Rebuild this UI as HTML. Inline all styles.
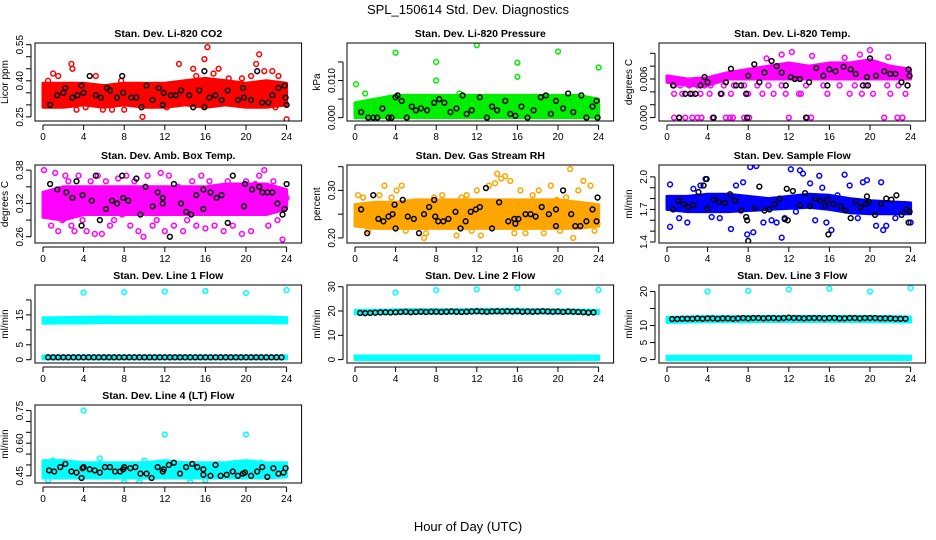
<!DOCTYPE html>
<html><head><meta charset="utf-8"><style>
html,body{margin:0;padding:0;background:#fff;}
svg{display:block;font-family:"Liberation Sans",Arial,sans-serif;}
</style></head><body>
<svg id="chart" width="936" height="540" viewBox="0 0 936 540" xmlns="http://www.w3.org/2000/svg">
<text x="468" y="14" text-anchor="middle" font-size="13">SPL_150614  Std. Dev. Diagnostics</text>
<text x="468" y="531" text-anchor="middle" font-size="13">Hour of Day (UTC)</text>
</svg>
<script>
// ---- shared ----
const bandHours = [0,2,4,6,8,10,12,14,16,18,20,22,24];
const xTicks = [0,4,8,12,16,20,24];
const halfHours = [0.5,1,1.5,2,2.5,3,3.5,4,4.5,5,5.5,6,6.5,7,7.5,8,8.5,9,9.5,10,10.5,11,11.5,12,12.5,13,13.5,14,14.5,15,15.5,16,16.5,17,17.5,18,18.5,19,19.5,20,20.5,21,21.5,22,22.5,23,23.5];

// ---- CO2 ----
const co2Lo = [0.29,0.29,0.30,0.29,0.30,0.29,0.29,0.30,0.29,0.30,0.29,0.29,0.30];
const co2Hi = [0.39,0.39,0.39,0.38,0.39,0.39,0.39,0.40,0.41,0.40,0.39,0.40,0.39];
const co2X = [0.5,1,1.5,2.8,2.9,3.3,4.2,5.2,5.9,6.8,7.7,8,9.8,12.2,13.4,14.8,15.1,15.9,16.2,16.8,17.3,18.3,19.6,20.5,21,21.3,21.8,22.6,22.9,23.2,24];
const co2Y = [0.40,0.43,0.42,0.47,0.45,0.28,0.29,0.42,0.28,0.28,0.40,0.28,0.25,0.29,0.47,0.45,0.42,0.49,0.54,0.43,0.45,0.41,0.41,0.42,0.47,0.51,0.44,0.44,0.29,0.42,0.24];
const co2BX = [0.7,1.4,2,2.2,2.9,3.4,3.8,4,4.6,5.2,5.7,6.3,6.6,7.3,7.8,7.9,8.7,9.2,9.7,10.2,10.8,11.4,11.8,11.9,12.6,13.1,13.6,14.4,14.8,15.4,15.9,15.9,16.4,17,17.6,18.2,19.2,19.7,19.8,20.5,21.1,21.6,22.2,22.6,23.2,23.8,23.9,24];
const co2BY = [0.30,0.34,0.35,0.37,0.33,0.34,0.38,0.35,0.42,0.34,0.33,0.37,0.36,0.33,0.42,0.35,0.33,0.33,0.29,0.38,0.32,0.37,0.30,0.35,0.34,0.34,0.36,0.34,0.29,0.36,0.44,0.29,0.33,0.34,0.32,0.36,0.32,0.37,0.33,0.32,0.44,0.31,0.31,0.34,0.37,0.38,0.33,0.30];

// ---- Pressure ----
const presLo = [0,0,0,0,0,0,0,0,0,0,0,0,0];
const presHi = [0.004,0.005,0.006,0.006,0.006,0.006,0.006,0.006,0.006,0.006,0.006,0.006,0.005];
const presX = [0.1,4,8,8,12,16,16,20,24,1,10.3,2.5];
const presY = [0.009,0.0175,0.015,0.010,0.0195,0.0148,0.011,0.0178,0.0135,0.0065,0.0065,0.004];
const presBX = [0.6,1.3,1.8,2.2,2.7,3.3,3.6,4,4.2,4.6,5.1,5.6,6,6.5,7.1,7.8,8.3,8.8,9.4,10,10.6,11,11.5,12.3,13,13.5,14,14.8,15.3,15.8,16.4,17,17.6,18.3,18.8,19.3,19.8,20.5,21,21.5,22.3,22.8,23.4,23.8,23.9];
const presBY = [0.0015,0,0,0,0.0025,0,0,0.0055,0.006,0.0045,0,0.003,0.002,0.0025,0.002,0.004,0.005,0.004,0.0015,0.0025,0.006,0.001,0.002,0.0055,0,0.003,0.002,0.0045,0.001,0.0005,0.003,0,0.002,0.0055,0.006,0.001,0.0045,0.0025,0.0065,0.0015,0.006,0,0.003,0.0045,0];

// ---- Li-820 Temp ----
const ltLo = [0.0055,0.005,0.005,0.006,0.006,0.006,0.006,0.006,0.006,0.006,0.006,0.006,0.006];
const ltHi = [0.0065,0.006,0.0062,0.007,0.0075,0.008,0.0085,0.008,0.0085,0.0085,0.009,0.008,0.0075];
const ltX = [0.7,1.2,1.8,2.5,3,3.4,4.5,5.8,6.2,6.5,7.6,8.1,12,13.8,14.2,21.4,22.7,23.2,
  0.7,1.5,2.5,3.3,4.2,5.4,6.3,7.8,8,9.4,10.5,11.7,13,13.2,15.8,18,19.2,20.3,22,23.5,
  0.7,1.3,2.2,3,3.7,4.3,5.6,6.6,7.6,8.9,10,11.3,13.7,15.4,17,18.5,19.6,21.7,22.8,23.7,
  9.8,11.3,12.3,14.3,17.5,19,20,21.8];
const ltY = [0,0,0,0,0,0,0,0,0,0,0,0,0,0,0,0,0,0,
  0.0037,0.0037,0.0037,0.0037,0.0037,0.0037,0.0037,0.0037,0.0037,0.0037,0.0037,0.0037,0.0037,0.0037,0.0037,0.0037,0.0037,0.0037,0.0037,0.0037,
  0.005,0.005,0.005,0.005,0.005,0.005,0.005,0.005,0.005,0.005,0.005,0.005,0.005,0.005,0.005,0.005,0.005,0.005,0.005,0.005,
  0.0092,0.0098,0.0102,0.0096,0.0093,0.0098,0.0105,0.0094];
const ltBX = [0.6,1.2,1.8,2.3,2.8,3.3,3.7,4,4.6,5.3,5.8,6.3,6.8,7.3,7.9,7.8,8,8.6,9.1,9.6,10.3,10.8,11.3,11.7,12.2,12.6,13.1,13.7,14,14.7,15.4,15.8,16,16.6,17.4,18.1,18.6,19.3,19.7,19.8,20,20.6,21.4,22,22.5,23.1,23.7,23.8,23.9];
const ltBY = [0.005,0,0.0037,0.0037,0.0037,0.005,0.0063,0.0055,0,0.0037,0.0055,0.0076,0.005,0.005,0,0.0037,0.0065,0.0083,0.0055,0.007,0.0088,0.008,0.007,0.005,0.0063,0.006,0.006,0,0.0055,0.0077,0.0065,0.005,0.0075,0.0072,0.0079,0.0075,0.0068,0.005,0.0063,0.005,0.0092,0.0065,0.0072,0.0068,0.0068,0.0055,0.005,0.0075,0.0065];

// ---- Amb Box Temp ----
const abLo = [0.295,0.29,0.30,0.30,0.30,0.30,0.30,0.30,0.30,0.30,0.30,0.30,0.31];
const abHi = [0.34,0.35,0.35,0.35,0.35,0.35,0.35,0.35,0.35,0.355,0.355,0.355,0.345];
const abX = [0.1,0.4,0.8,1.2,1.5,1.9,2.2,2.5,2.8,3.1,3.5,3.9,4.3,4.7,5.1,5.4,5.8,6.2,6.6,7,7.4,7.8,8.2,8.6,9,9.4,9.9,10.3,10.8,11.2,11.6,12,12.4,12.9,13.3,13.8,14.2,14.7,15.1,15.6,16,16.4,16.9,17.3,17.8,18.2,18.7,19.1,19.6,20,20.5,20.9,21.3,21.8,22.2,22.7,23.1,23.6,24];
const abY = [0.38,0.31,0.28,0.375,0.27,0.29,0.37,0.36,0.28,0.27,0.37,0.29,0.27,0.36,0.265,0.37,0.265,0.36,0.28,0.29,0.365,0.30,0.37,0.28,0.36,0.27,0.26,0.37,0.28,0.29,0.375,0.27,0.37,0.28,0.35,0.27,0.29,0.36,0.28,0.37,0.275,0.36,0.28,0.35,0.27,0.36,0.28,0.35,0.265,0.36,0.27,0.355,0.37,0.38,0.28,0.36,0.29,0.255,0.33];
const abBX = [0.7,1.4,2.3,2.9,3.3,3.8,3.9,4.8,5.2,5.6,6.2,6.8,7.3,7.8,7.9,8.4,9.2,9.6,10.1,10.8,11.3,11.8,11.8,12.5,12.9,13.6,14.1,14.6,15.1,15.8,15.8,16.5,17.1,17.6,18.2,18.7,19.8,19.9,20.6,21.3,21.6,22.1,22.6,23.1,23.6,23.8,24];
const abBY = [0.355,0.345,0.34,0.33,0.36,0.28,0.335,0.325,0.37,0.29,0.31,0.325,0.32,0.37,0.33,0.325,0.365,0.30,0.35,0.315,0.34,0.33,0.32,0.26,0.355,0.32,0.305,0.30,0.335,0.345,0.31,0.34,0.33,0.335,0.285,0.37,0.315,0.355,0.345,0.35,0.34,0.34,0.34,0.32,0.30,0.31,0.355];

// ---- Gas Stream RH ----
const rhLo = [0.225,0.22,0.22,0.22,0.22,0.22,0.22,0.22,0.22,0.22,0.22,0.22,0.225];
const rhHi = [0.27,0.275,0.275,0.28,0.28,0.28,0.28,0.28,0.28,0.28,0.28,0.275,0.27];
const rhX = [0.3,0.8,1.3,2.4,2.9,3.6,4.1,4.6,5,6.8,7,7.8,8.6,9.2,10,10.5,11,11.5,12,12.4,13.2,13.8,14,14.4,14.8,15.3,15.7,16.3,16.8,17.5,18.1,18.6,19.3,19.9,20.2,20.8,21.2,21.5,22,22.5,23.2,23.6,23.9];
const rhY = [0.29,0.285,0.215,0.29,0.31,0.285,0.30,0.31,0.215,0.20,0.21,0.285,0.29,0.275,0.205,0.285,0.29,0.215,0.30,0.205,0.31,0.315,0.335,0.325,0.33,0.32,0.21,0.30,0.21,0.29,0.30,0.21,0.31,0.28,0.215,0.285,0.345,0.20,0.30,0.32,0.31,0.215,0.23];
const rhBX = [0.6,1.2,1.8,2.3,2.8,3.3,3.7,3.9,4,4.7,5.2,5.8,6.3,6.8,7.3,7.8,7.9,8.2,8.7,9.2,9.9,10.4,10.9,11.4,11.9,12.3,12.9,13.5,14.2,15.1,15.7,15.8,16.1,16.8,17.3,17.8,18.4,19.1,19.8,19.8,20.5,21.3,21.7,22.2,22.8,23.4,23.8,23.9];
const rhBY = [0.26,0.21,0.29,0.24,0.235,0.245,0.25,0.27,0.22,0.28,0.245,0.24,0.21,0.25,0.265,0.28,0.245,0.235,0.235,0.24,0.255,0.22,0.235,0.255,0.26,0.265,0.305,0.22,0.275,0.235,0.24,0.23,0.24,0.25,0.25,0.245,0.265,0.25,0.26,0.225,0.30,0.25,0.225,0.225,0.235,0.26,0.235,0.285];

// ---- Sample Flow ----
const sfLo = [1.70,1.68,1.68,1.68,1.69,1.70,1.71,1.72,1.70,1.67,1.66,1.66,1.66];
const sfHi = [1.82,1.82,1.84,1.84,1.82,1.80,1.82,1.84,1.83,1.80,1.78,1.77,1.76];
const sfX = [0.3,0.3,1.2,2.0,2.6,3.3,3.8,4.4,5.2,6.3,6.8,7.5,7.9,8.2,8.5,8.8,9.5,10.3,10.8,11.3,11.6,12.2,12.7,13.1,13.4,14.1,14.6,15.0,15.3,15.7,16.2,16.8,17.5,18.0,18.8,19.3,19.7,20.6,21.1,21.3,21.6,22.5,23.4,24];
const sfY = [1.93,1.54,1.62,1.58,1.89,1.92,1.98,1.63,1.62,1.52,1.92,1.95,1.47,2.09,1.49,2.10,1.58,1.60,1.58,1.44,1.62,2.07,1.68,2.06,2.03,1.94,1.60,2.01,1.90,1.58,1.51,1.83,2.02,1.92,1.62,1.95,1.97,1.55,1.95,1.51,1.55,1.62,1.75,1.58];
const sfBX = [0.6,1.1,1.6,2.1,2.6,3.1,3.6,3.9,4.0,4.6,5.1,5.7,6.2,6.7,7.3,7.8,7.9,8.0,8.6,9.1,9.6,10.1,10.6,11.1,11.6,11.8,11.9,12.4,13.1,13.6,14.1,14.6,15.1,15.6,15.8,15.9,16.4,17.1,17.6,18.1,18.6,19.1,19.6,19.7,19.9,20.5,21.1,21.6,22.1,22.6,23.1,23.6,23.8,23.9];
const sfBY = [1.70,1.78,1.75,1.72,1.74,1.86,1.92,1.98,1.71,1.79,1.77,1.76,1.84,1.78,1.69,1.63,1.60,1.41,1.71,1.91,1.69,1.70,1.75,1.80,1.61,1.89,1.60,1.87,1.74,1.85,1.73,1.80,1.78,1.73,1.79,1.47,1.75,1.73,1.69,1.62,1.77,1.72,1.75,1.82,1.77,1.65,1.75,1.80,1.79,1.83,1.65,1.70,1.58,1.68];

// ---- Line 1 Flow ----
const l1Lo = [12.2,12.3,12.3,12.4,12.4,12.4,12.4,12.4,12.4,12.4,12.4,12.4,12.3];
const l1Hi = [14.0,14.1,14.2,14.3,14.2,14.3,14.3,14.3,14.3,14.3,14.3,14.3,14.1];
const l1Lo2 = [0.3,0.3,0.3,0.3,0.3,0.3,0.3,0.3,0.3,0.3,0.3,0.3,0.3];
const l1Hi2 = [1.3,1.3,1.3,1.3,1.3,1.3,1.3,1.3,1.3,1.3,1.3,1.3,1.3];
const l1X = [4,8,12,16,20,24];
const l1Y = [22.5,22.6,22.8,23.0,22.3,23.3];
const l1BY = [0.8,0.8,0.8,0.8,0.8,0.8,0.8,0.8,0.8,0.8,0.8,0.8,0.8,0.8,0.8,0.8,0.8,0.8,0.8,0.8,0.8,0.8,0.8,0.8,0.8,0.8,0.8,0.8,0.8,0.8,0.8,0.8,0.8,0.8,0.8,0.8,0.8,0.8,0.8,0.8,0.8,0.8,0.8,0.8,0.8,0.8,0.8];

// ---- Line 2 Flow ----
const l2Lo = [18.8,18.9,19.0,19.1,19.1,19.1,19.2,19.2,19.2,19.1,19.1,19.0,18.9];
const l2Hi = [20.2,20.3,20.5,20.6,20.6,20.6,20.7,20.7,20.7,20.6,20.5,20.4,20.2];
const l2Lo2 = [0,0,0,0,0,0,0,0,0,0,0,0,0];
const l2Hi2 = [1.5,1.5,1.5,1.5,1.5,1.5,1.5,1.5,1.5,1.5,1.5,1.5,1.5];
const l2X = [4,8,12,16,20,24];
const l2Y = [27.6,28.6,28.9,29.5,28.0,28.7];
const l2BY = [19.2,19.1,19.2,19.3,19.4,19.5,19.4,19.5,19.6,19.7,19.5,19.6,19.7,19.6,19.7,19.7,19.6,19.7,19.8,19.7,19.6,19.7,19.8,19.9,19.8,19.7,19.8,19.9,19.8,19.9,19.8,19.9,19.7,19.8,19.7,19.8,19.9,19.8,19.7,19.8,19.6,19.8,19.7,19.6,19.5,19.3,19.4];

// ---- Line 3 Flow ----
const l3Lo = [10.9,11.0,11.1,11.1,11.1,11.2,11.2,11.2,11.2,11.2,11.1,11.1,11.0];
const l3Hi = [12.4,12.5,12.6,12.6,12.6,12.7,12.7,12.7,12.7,12.7,12.6,12.6,12.5];
const l3Lo2 = [0,0,0,0,0,0,0,0,0,0,0,0,0];
const l3Hi2 = [1.0,1.0,1.0,1.0,1.0,1.0,1.0,1.0,1.0,1.0,1.0,1.0,1.0];
const l3X = [4,8,12,16,20,24];
const l3Y = [20.0,20.2,20.6,20.8,20.0,21.0];
const l3BY = [11.9,11.9,12.0,12.0,12.0,12.1,12.0,12.1,12.1,12.0,12.1,12.1,12.0,12.1,12.2,12.1,12.2,12.2,12.1,12.2,12.2,12.1,12.2,12.3,12.2,12.2,12.1,12.2,12.2,12.2,12.1,12.2,12.2,12.1,12.1,12.2,12.2,12.1,12.2,12.2,12.2,12.1,12.1,12.1,12.0,12.0,12.0];

// ---- Line 4 (LT) Flow ----
const l4Lo = [0.44,0.44,0.44,0.44,0.44,0.44,0.44,0.44,0.44,0.44,0.44,0.44,0.445];
const l4Hi = [0.52,0.52,0.51,0.51,0.51,0.51,0.52,0.51,0.51,0.51,0.52,0.51,0.51];
const l4X = [0.5,1,4,5.6,8,9.5,10,12,14.5,16,20,21.5,22.8,3.5,18.9];
const l4Y = [0.43,0.52,0.75,0.53,0.42,0.42,0.52,0.64,0.42,0.43,0.64,0.51,0.50,0.50,0.51];
const l4BX = [0.6,1.1,1.7,2.2,2.8,3.3,3.8,3.9,4.0,4.6,5.1,5.6,6.1,6.6,7.1,7.6,7.9,8.0,8.6,9.1,9.6,10.2,10.7,11.3,11.8,11.9,12.4,12.9,13.5,14.1,14.7,15.2,15.8,15.8,16.5,17.0,17.5,18.1,18.7,19.2,19.7,19.9,20.5,21.1,21.6,22.1,22.7,23.2,23.7,23.9];
const l4BY = [0.475,0.47,0.49,0.505,0.47,0.465,0.44,0.485,0.49,0.48,0.475,0.465,0.49,0.49,0.47,0.47,0.48,0.49,0.485,0.49,0.46,0.46,0.44,0.49,0.47,0.48,0.50,0.51,0.46,0.49,0.505,0.49,0.455,0.48,0.45,0.50,0.45,0.455,0.47,0.45,0.46,0.465,0.45,0.47,0.49,0.445,0.485,0.46,0.465,0.485];

// ---- y-axis ticks ----
const co2Ticks = [0.25,0.30,0.35,0.40,0.45,0.50,0.55];
const co2Labels = ["0.25","","","0.40","","","0.55"];
const presTicks = [0,0.005,0.010,0.015];
const presLabels = ["0.000","","0.010",""];
const ltTicks = [0,0.002,0.004,0.006,0.008,0.010];
const ltLabels = ["0.000","","","0.006","",""];
const abTicks = [0.26,0.29,0.32,0.35,0.38];
const abLabels = ["0.26","","0.32","","0.38"];
const rhTicks = [0.20,0.25,0.30,0.35];
const rhLabels = ["0.20","","0.30",""];
const sfTicks = [1.4,1.5,1.6,1.7,1.8,1.9,2.0];
const sfLabels = ["1.4","","","1.7","","","2.0"];
const l1Ticks = [0,5,10,15,20];
const l1Labels = ["0","5","","15",""];
const l2Ticks = [0,10,20,30];
const l2Labels = ["0","10","20","30"];
const l3Ticks = [0,5,10,15,20];
const l3Labels = ["0","5","10","","20"];
const l4Ticks = [0.45,0.50,0.55,0.60,0.65,0.70,0.75];
const l4Labels = ["0.45","","","0.60","","","0.75"];

const NS = "http://www.w3.org/2000/svg";
const svg = document.getElementById('chart');
function mk(tag, attrs, parent){ const e=document.createElementNS(NS,tag); for(const k in attrs) e.setAttribute(k,attrs[k]); (parent||svg).appendChild(e); return e; }

const colX0 = [43,355,667];
const rowTop = [43,165,285,405];
const H = 78, HOURPX = 10.15;

const panels = [
 {name:'co2', title:'Stan. Dev. Li-820 CO2', ylab:'Licor ppm', c:0,r:0, ymin:0.233, ymax:0.557, col:'#ff0000', bands:[[co2Lo,co2Hi]], px:co2X, py:co2Y, bx:co2BX, by:co2BY, ticks:co2Ticks, labels:co2Labels},
 {name:'pressure', title:'Stan. Dev. Li-820 Pressure', ylab:'kPa', c:1,r:0, ymin:-0.0009, ymax:0.0201, col:'#00ee00', bands:[[presLo,presHi]], px:presX, py:presY, bx:presBX, by:presBY, ticks:presTicks, labels:presLabels},
 {name:'li820-temp', title:'Stan. Dev. Li-820 Temp.', ylab:'degrees C', c:2,r:0, ymin:-0.00053, ymax:0.0116, col:'#ff00ff', bands:[[ltLo,ltHi]], px:ltX, py:ltY, bx:ltBX, by:ltBY, ticks:ltTicks, labels:ltLabels},
 {name:'amb-box-temp', title:'Stan. Dev. Amb. Box Temp.', ylab:'degrees C', c:0,r:1, ymin:0.2487, ymax:0.3893, col:'#ff00ff', bands:[[abLo,abHi]], px:abX, py:abY, bx:abBX, by:abBY, ticks:abTicks, labels:abLabels},
 {name:'gas-stream-rh', title:'Stan. Dev. Gas Stream RH', ylab:'percent', c:1,r:1, ymin:0.1893, ymax:0.3535, col:'#ffa500', bands:[[rhLo,rhHi]], px:rhX, py:rhY, bx:rhBX, by:rhBY, ticks:rhTicks, labels:rhLabels},
 {name:'sample-flow', title:'Stan. Dev. Sample Flow', ylab:'ml/min', c:2,r:1, ymin:1.391, ymax:2.109, col:'#0000ff', bands:[[sfLo,sfHi]], px:sfX, py:sfY, bx:sfBX, by:sfBY, ticks:sfTicks, labels:sfLabels},
 {name:'line1-flow', title:'Stan. Dev. Line 1 Flow', ylab:'ml/min', c:0,r:2, ymin:-1.1, ymax:25, col:'#00ffff', bands:[[l1Lo,l1Hi],[l1Lo2,l1Hi2]], px:l1X, py:l1Y, bx:halfHours, by:l1BY, ticks:l1Ticks, labels:l1Labels},
 {name:'line2-flow', title:'Stan. Dev. Line 2 Flow', ylab:'ml/min', c:1,r:2, ymin:-1.4, ymax:30.7, col:'#00ffff', bands:[[l2Lo,l2Hi],[l2Lo2,l2Hi2]], px:l2X, py:l2Y, bx:halfHours, by:l2BY, ticks:l2Ticks, labels:l2Labels},
 {name:'line3-flow', title:'Stan. Dev. Line 3 Flow', ylab:'ml/min', c:2,r:2, ymin:-1, ymax:21.9, col:'#00ffff', bands:[[l3Lo,l3Hi],[l3Lo2,l3Hi2]], px:l3X, py:l3Y, bx:halfHours, by:l3BY, ticks:l3Ticks, labels:l3Labels},
 {name:'line4-flow', title:'Stan. Dev. Line 4 (LT) Flow', ylab:'ml/min', c:0,r:3, ymin:0.417, ymax:0.7756, col:'#00ffff', bands:[[l4Lo,l4Hi]], px:l4X, py:l4Y, bx:l4BX, by:l4BY, ticks:l4Ticks, labels:l4Labels}
];

panels.forEach(p=>{
  const x0 = colX0[p.c], top = rowTop[p.r], bot = top+H;
  const left = x0-8, right = x0+24*HOURPX+15;
  const xs = h => x0 + h*HOURPX;
  const ys = v => bot - (v-p.ymin)/(p.ymax-p.ymin)*H;
  const g = mk('g',{});
  
  

  const t = mk('text',{x:(left+right)/2, y:top-6, 'text-anchor':'middle', 'font-size':10.5, 'font-weight':'bold'}, g);
  t.textContent = p.title;
  
  

  const clip = mk('clipPath',{id:'clip-'+p.name}, g);
  mk('rect',{x:left,y:top,width:right-left,height:H}, clip);
  const plot = mk('g',{'clip-path':'url(#clip-'+p.name+')'}, g);

  p.bands.forEach((b,bi)=>{
    const lo=b[0], hi=b[1];
    let pts=[];
    bandHours.forEach((h,i)=>pts.push(xs(h)+','+ys(hi[i])));
    for(let i=bandHours.length-1;i>=0;i--) pts.push(xs(bandHours[i])+','+ys(lo[i]));
    const poly = mk('polygon',{points:pts.join(' '), fill:p.col, stroke:p.col, 'stroke-width':3, 'stroke-linejoin':'round'}, plot);
    
    
  });
  const n = Math.min(p.px.length, p.py.length);
  for(let i=0;i<n;i++){
    const c = mk('circle',{cx:xs(p.px[i]), cy:ys(p.py[i]), r:2.4, fill:'none', stroke:p.col, 'stroke-width':1.5}, plot);
    
    
  }
  const m = Math.min(p.bx.length, p.by.length);
  for(let i=0;i<m;i++){
    const c = mk('circle',{cx:xs(p.bx[i]), cy:ys(p.by[i]), r:2.4, fill:'none', stroke:'#000', 'stroke-width':1.5}, plot);
    
    
  }

  const box = mk('rect',{x:left, y:top, width:right-left, height:H, fill:'none', stroke:'#000', 'stroke-width':1}, g);
  
  

  mk('line',{x1:xs(0), x2:xs(24), y1:bot+4, y2:bot+4, stroke:'#000'}, g);
  xTicks.forEach(h=>{
    mk('line',{x1:xs(h), x2:xs(h), y1:bot+4, y2:bot+9, stroke:'#000'}, g);
    const tl = mk('text',{x:xs(h), y:bot+19, 'text-anchor':'middle', 'font-size':10}, g);
    tl.textContent = h;
    
    
  });
  const yax = left-4;
  mk('line',{x1:yax, x2:yax, y1:ys(p.ticks[0]), y2:ys(p.ticks[p.ticks.length-1]), stroke:'#000'}, g);
  p.ticks.forEach((v,i)=>{
    const y = ys(v);
    mk('line',{x1:yax-5, x2:yax, y1:y, y2:y, stroke:'#000'}, g);
    if(p.labels[i]){
      const tl = mk('text',{x:yax-8, y:y, 'text-anchor':'middle', 'font-size':10, transform:'rotate(-90 '+(yax-8)+' '+y+')'}, g);
      tl.textContent = p.labels[i];
      
      
    }
  });
  const yl = mk('text',{x:left-27, y:(top+bot)/2, 'text-anchor':'middle', 'font-size':10, transform:'rotate(-90 '+(left-27)+' '+((top+bot)/2)+')'}, g);
  yl.textContent = p.ylab;
  
  
});
</script>
</body></html>
